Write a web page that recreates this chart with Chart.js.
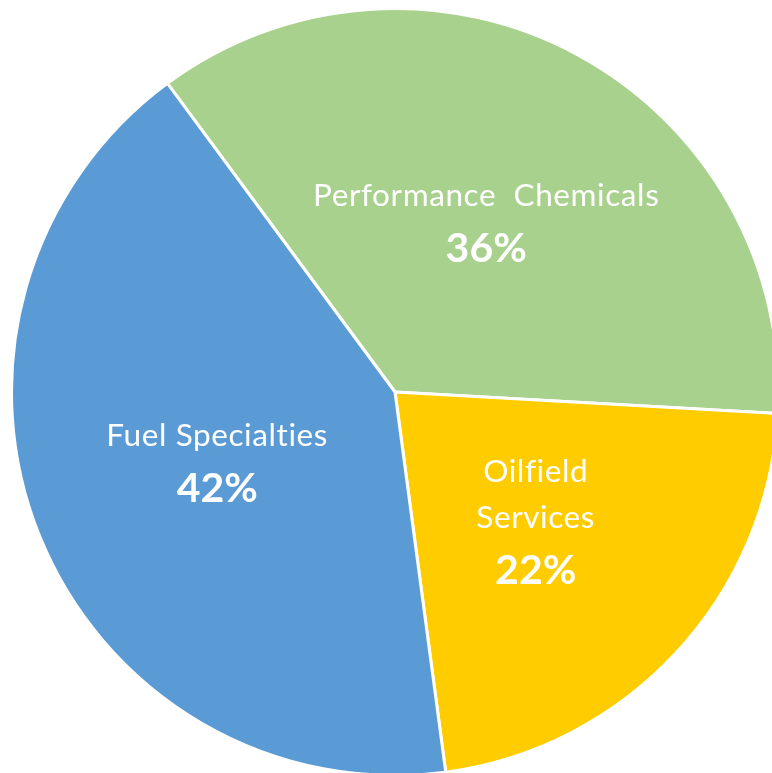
<!DOCTYPE html>
<html>
<head>
<meta charset="utf-8">
<script src="https://cdn.jsdelivr.net/npm/chart.js@4"></script>
<style>
  html, body { margin: 0; padding: 0; background: #fff; overflow: hidden; width: 772px; height: 773px; }
  #wrap { position: absolute; left: 10px; top: 7px; width: 770px; height: 770px; }
</style>
</head>
<body>
<div id="wrap"><canvas id="pie"></canvas></div>
<script>
// segments, clockwise starting from the top-left cut
var categories = ["Performance Chemicals", "Oilfield Services", "Fuel Specialties"];
var shares = [36, 22, 42];
var labelLines = [["Performance  Chemicals"], ["Oilfield", "Services"], ["Fuel Specialties"]];

var sliceColors = ["#A9D18E", "#FFCC00", "#5B9BD5"];

// draw the name + percent inside each slice, centred on the arc centroid
var sliceLabels = {
    id: 'sliceLabels',
    afterDatasetsDraw: function (chart) {
        var ctx = chart.ctx;
        var arcs = chart.getDatasetMeta(0).data;
        ctx.save();
        ctx.fillStyle = '#fff';
        ctx.textAlign = 'center';
        ctx.textBaseline = 'alphabetic';
        arcs.forEach(function (arc, i) {
            var p = arc.tooltipPosition();
            var lines = labelLines[i];
            var nameGap = 46, pctGap = 56;
            var blockH = (lines.length - 1) * nameGap + pctGap + 21;
            var y = p.y - blockH / 2 + 21;
            ctx.font = '31.5px Lato';
            ctx.letterSpacing = '0.6px';
            lines.forEach(function (t, k) {
                ctx.fillText(t, p.x, y + k * nameGap);
            });
            ctx.font = 'bold 41px Lato';
            ctx.letterSpacing = '0px';
            ctx.fillText(shares[i] + '%', p.x, y + (lines.length - 1) * nameGap + pctGap);
        });
        ctx.restore();
    }
};

new Chart(document.getElementById("pie"), {
    type: 'pie',
    data: {
        labels: categories,
        datasets: [{
            data: shares,
            backgroundColor: sliceColors,
            borderColor: '#ffffff',
            borderWidth: 3,
            hoverOffset: 0
        }]
    },
    options: {
        responsive: true,
        maintainAspectRatio: false,
        animation: false,
        rotation: -36.4,
        layout: { padding: 0 },
        plugins: {
            legend: { display: false },
            tooltip: { enabled: false }
        }
    },
    plugins: [sliceLabels]
});
</script>
</body>
</html>
